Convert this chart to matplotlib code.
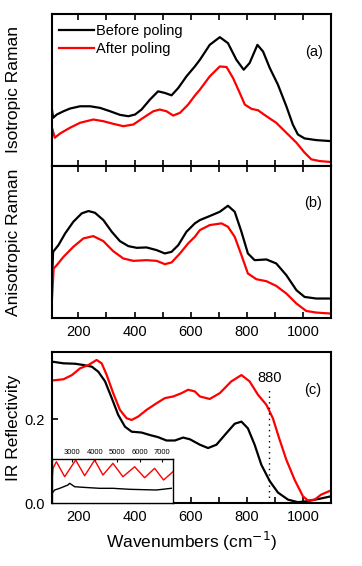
import matplotlib.pyplot as plt
from matplotlib.ticker import MultipleLocator

plt.rcParams['font.family'] = ['Liberation Sans', 'DejaVu Sans']

# (a) isotropic Raman, arbitrary units
wn_a_before = [106, 110, 123, 147, 170, 206, 242, 277, 313, 348, 378, 402, 425, 455, 484, 508,
               532, 556, 585, 615, 633, 668, 704, 733, 763, 789, 810, 838, 858, 882, 911,
               941, 964, 982, 1006, 1048, 1100]
iso_before = [56.7, 48.4, 51.7, 55, 57.7, 60, 60, 58.4, 55, 51.4, 50, 51.7, 56.7, 66.7, 75, 73.4,
              71, 78.4, 90, 100, 106.7, 121.7, 129.4, 123.4, 106.7, 96.7, 103.4, 121.7, 115, 98.4, 81.7,
              60, 41.7, 31.7, 27.7, 26, 25]
wn_a_after = [106, 116, 135, 170, 206, 253, 289, 324, 360, 396, 431, 467, 490, 514, 538, 562,
              591, 615, 633, 668, 704, 728, 751, 775, 793, 817, 840, 870, 905, 941, 977,
              1006, 1030, 1059, 1100]
iso_after = [38.4, 28.4, 32.7, 38.4, 43.4, 46.7, 45, 42.4, 40, 41.7, 48.4, 55, 56.7, 55, 50.7, 53.4,
             61.7, 70.7, 76.7, 90, 100, 99.4, 88.4, 73.4, 61.7, 57.4, 56, 50, 43.4, 33.4, 23.4,
             13.4, 6.7, 5, 4]

# (b) anisotropic Raman, arbitrary units
wn_b_before = [106, 110, 129, 153, 182, 212, 236, 259, 289, 319, 348, 378, 408, 443, 479, 508,
               532, 556, 585, 615, 633, 668, 704, 733, 757, 781, 804, 828, 870, 905, 941,
               977, 1006, 1048, 1100]
aniso_before = [37.7, 66, 72.7, 84.4, 96, 104.4, 106.7, 105, 97.7, 86, 76.7, 71.7, 70, 70.4, 67.7, 64.4,
                66, 72.7, 86, 94.4, 97.7, 101.7, 106, 112, 106, 86, 64.4, 57.7, 58.4, 54.4, 42.7,
                27.7, 21, 19.4, 19.4]
wn_b_after = [106, 112, 123, 147, 182, 218, 253, 289, 324, 360, 396, 443, 479, 508, 532, 562,
              591, 615, 633, 668, 710, 733, 757, 781, 804, 834, 870, 905, 941, 977, 1012,
              1048, 1100]
aniso_after = [19.4, 49.4, 52.7, 61, 71, 79.4, 81.7, 76.7, 66.7, 59.4, 57, 57.7, 57, 53.7, 55.4, 64.4,
               74.4, 81, 87.7, 92.7, 94.4, 91, 81, 62.7, 44.4, 38.7, 36.7, 32, 24.4, 14.4, 7,
               5.4, 4.4]

# (c) IR reflectivity
wn_c_before = [106, 147, 188, 218, 248, 271, 295, 319, 342, 366, 390, 425, 455, 484, 514, 544,
               573, 597, 633, 662, 692, 728, 757, 781, 804, 828, 852, 882, 911, 947, 982,
               1012, 1059, 1100]
ir_before = [0.337, 0.333, 0.332, 0.329, 0.325, 0.313, 0.290, 0.250, 0.210, 0.182, 0.170, 0.168,
             0.162, 0.157, 0.149, 0.149, 0.156, 0.152, 0.139, 0.131, 0.139, 0.167, 0.189, 0.194,
             0.178, 0.139, 0.091, 0.052, 0.025, 0.008, 0.002, 0.004, 0.010, 0.016]
wn_c_after = [106, 147, 177, 206, 236, 265, 283, 301, 324, 348, 372, 390, 413, 443, 479, 508,
              538, 568, 591, 615, 633, 668, 704, 745, 781, 810, 840, 870, 893, 917, 941,
              970, 1000, 1018, 1042, 1065, 1100]
ir_after = [0.292, 0.295, 0.305, 0.321, 0.329, 0.341, 0.333, 0.305, 0.262, 0.222, 0.202, 0.198,
            0.206, 0.222, 0.238, 0.250, 0.254, 0.262, 0.270, 0.266, 0.254, 0.248, 0.262, 0.290,
            0.305, 0.290, 0.258, 0.234, 0.202, 0.151, 0.103, 0.056, 0.016, 0.006, 0.008, 0.020,
            0.030]

# inset: high wavenumber range
wn_in_after = [2093, 2138, 2289, 2658, 3147, 3547, 3991, 4360, 4804, 5249, 5769, 6213, 6658,
               7058, 7471]
in_after = [23, 34.7, 41.3, 26.3, 43, 27.3, 43, 28, 39.7, 26.3, 36.3, 25.3, 34.7, 23, 31.3]
wn_in_before = [2093, 2213, 2436, 2804, 2880, 3102, 3471, 4213, 4804, 5547, 6733, 7400]
in_before = [9.7, 13, 14.7, 18, 19.7, 16.3, 15.7, 14.7, 14.7, 13.7, 13, 14.7]

fig = plt.figure(figsize=(3.62, 5.66), dpi=100)
left, width = 0.1436, 0.7707
ax_a = fig.add_axes([left, 0.7067, width, 0.2686])
ax_b = fig.add_axes([left, 0.4382, width, 0.2686])
ax_c = fig.add_axes([left, 0.1113, width, 0.2668])

lw = 1.6
ax_a.plot(wn_a_before, iso_before, color='black', lw=lw, label='Before poling')
ax_a.plot(wn_a_after, iso_after, color='#ff0000', lw=lw, label='After poling')
ax_b.plot(wn_b_before, aniso_before, color='black', lw=lw)
ax_b.plot(wn_b_after, aniso_after, color='#ff0000', lw=lw)
ax_c.plot(wn_c_before, ir_before, color='black', lw=lw)
ax_c.plot(wn_c_after, ir_after, color='#ff0000', lw=lw)

ax_a.set_ylim(0, 152.7)
ax_b.set_ylim(0, 151.7)
ax_c.set_ylim(0, 0.36)

for ax in (ax_a, ax_b, ax_c):
    ax.set_xlim(106, 1100)
    ax.xaxis.set_major_locator(MultipleLocator(200))
    ax.xaxis.set_minor_locator(MultipleLocator(100))
    for s in ax.spines.values():
        s.set_linewidth(1.5)
    ax.tick_params(axis='x', which='both', direction='in', length=4, width=1.2,
                   labelsize=10.5, pad=5)
    ax.yaxis.set_label_coords(-0.11, 0.5)

for ax in (ax_a, ax_b):
    ax.set_yticks([])
    ax.tick_params(axis='x', which='both', top=True)
ax_a.tick_params(axis='x', labelbottom=False)

ax_c.set_yticks([0.0, 0.2])
ax_c.set_yticklabels(['0.0', '0.2'])
ax_c.tick_params(axis='y', direction='in', length=4, width=1.2, labelsize=10.5, pad=5)

ax_a.set_ylabel('Isotropic Raman', fontsize=12.5)
ax_b.set_ylabel('Anisotropic Raman', fontsize=12.5)
ax_c.set_ylabel('IR Reflectivity', fontsize=12.5)
ax_c.set_xlabel('Wavenumbers (cm$^{-1}$)', fontsize=12.5, labelpad=4)

ax_a.text(0.94, 0.75, '(a)', transform=ax_a.transAxes, ha='center', va='center', fontsize=10.5)
ax_b.text(0.935, 0.757, '(b)', transform=ax_b.transAxes, ha='center', va='center', fontsize=10.5)
ax_c.text(0.935, 0.75, '(c)', transform=ax_c.transAxes, ha='center', va='center', fontsize=10.5)

ax_a.legend(loc='upper left', bbox_to_anchor=(-0.01, 1.0), frameon=False, fontsize=10.5,
            handlelength=2.4, handletextpad=0.1, labelspacing=0.25, borderaxespad=0.3)

# marker line at 880
ax_c.plot([880, 880], [0, 0.27], color='black', lw=1, ls=(0, (1, 3)))
ax_c.text(880, 0.298, '880', ha='center', va='center', fontsize=10.5)

# inset
ax_in = fig.add_axes([0.1436, 0.1113, 0.334, 0.0777])
ax_in.plot(wn_in_after, in_after, color='#ff0000', lw=1.0)
ax_in.plot(wn_in_before, in_before, color='black', lw=1.0)
ax_in.set_xlim(2093, 7471)
ax_in.set_ylim(0, 44)
ax_in.set_yticks([])
ax_in.set_xticks([3000, 4000, 5000, 6000, 7000])
ax_in.tick_params(axis='x', top=True, labeltop=True, bottom=False, labelbottom=False,
                  direction='in', length=2, labelsize=5.5, pad=2)
for s in ax_in.spines.values():
    s.set_linewidth(1.0)

fig.savefig('out.png', dpi=100)
